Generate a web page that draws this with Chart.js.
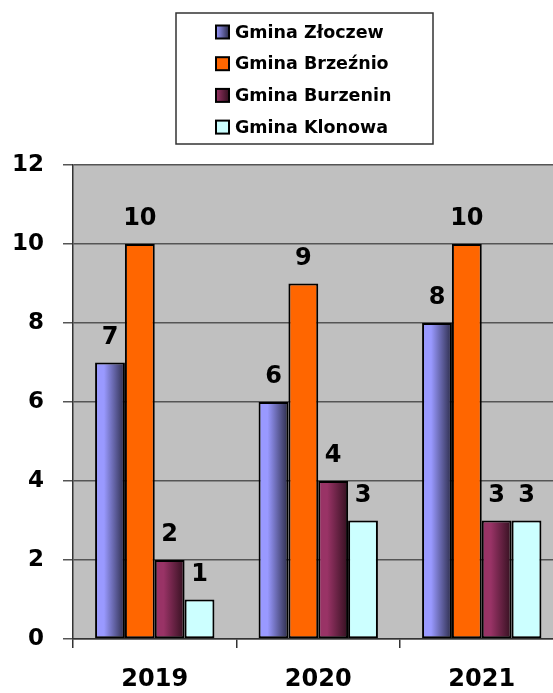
<!DOCTYPE html>
<html>
<head>
<meta charset="utf-8">
<script src="https://cdn.jsdelivr.net/npm/chart.js@4"></script>
<style>
  html, body { margin: 0; padding: 0; background: #fff; overflow: hidden; }
  #wrap { width: 553px; height: 693px; overflow: hidden; position: relative; }
  #box { width: 570px; height: 693px; }
</style>
</head>
<body>
<div id="wrap"><div id="box"><canvas id="bar_chart"></canvas></div></div>
<script>
const years = ["2019", "2020", "2021"];
const gminy = ["Gmina Złoczew", "Gmina Brzeźnio", "Gmina Burzenin", "Gmina Klonowa"];
const zloczew = [7, 6, 8];
const brzeznio = [10, 9, 10];
const burzenin = [2, 4, 3];
const klonowa = [1, 3, 3];
const yTicks = [0, 2, 4, 6, 8, 10, 12];

const CAT_PCT = 0.73;
const FONT = "'DejaVu Sans', sans-serif";

// horizontal gradient for a bar, worked out from the category scale
const gradientFill = (light, dark) => (c) => {
  const chart = c.chart;
  const x = chart.scales.x;
  if (c.type !== "data" || !x || !chart.chartArea) return light;
  const n = chart.data.datasets.length;
  const catW = x.width / chart.data.labels.length;
  const bw = (catW * CAT_PCT) / n;
  const left = x.getPixelForValue(c.dataIndex) - (catW * CAT_PCT) / 2 + c.datasetIndex * bw;
  const g = chart.ctx.createLinearGradient(left, 0, left + bw, 0);
  g.addColorStop(0, light);
  g.addColorStop(0.3, light);
  g.addColorStop(1, dark);
  return g;
};

const valueLabels = {
  id: "valueLabels",
  afterDatasetsDraw(chart) {
    const ctx = chart.ctx;
    ctx.save();
    ctx.font = "bold 24px " + FONT;
    ctx.fillStyle = "#000";
    ctx.textAlign = "center";
    ctx.textBaseline = "alphabetic";
    chart.data.datasets.forEach((ds, i) => {
      chart.getDatasetMeta(i).data.forEach((el, j) => {
        ctx.fillText(String(ds.data[j]), el.x, el.y - 19);
      });
    });
    ctx.restore();
  },
};

const boxLegend = {
  id: "boxLegend",
  afterDraw(chart) {
    const ctx = chart.ctx;
    ctx.save();
    ctx.fillStyle = "#fff";
    ctx.fillRect(176, 13, 257, 131);
    ctx.strokeStyle = "#333";
    ctx.lineWidth = 1.5;
    ctx.strokeRect(176, 13, 257, 131);
    ctx.font = "bold 17.5px " + FONT;
    ctx.textBaseline = "middle";
    ctx.textAlign = "left";
    chart.data.datasets.forEach((ds, i) => {
      const y = 32 + i * 31.7;
      let fill = ds.legendLight;
      if (ds.legendDark) {
        fill = ctx.createLinearGradient(216, 0, 229, 0);
        fill.addColorStop(0, ds.legendLight);
        fill.addColorStop(1, ds.legendDark);
      }
      ctx.fillStyle = fill;
      ctx.fillRect(216, y - 6.5, 13, 13);
      ctx.strokeStyle = "#000";
      ctx.lineWidth = 2;
      ctx.strokeRect(216, y - 6.5, 13, 13);
      ctx.fillStyle = "#000";
      ctx.fillText(ds.label, 235, y + 1);
    });
    ctx.restore();
  },
};

const plotBackground = {
  id: "plotBackground",
  beforeDraw(chart) {
    const a = chart.chartArea;
    chart.ctx.save();
    chart.ctx.fillStyle = "#C0C0C0";
    chart.ctx.fillRect(a.left, a.top, a.right - a.left, a.bottom - a.top);
    chart.ctx.restore();
  },
};

const ctx = document.getElementById("bar_chart").getContext("2d");

new Chart(ctx, {
  type: "bar",
  data: {
    labels: years,
    datasets: [
      {
        label: gminy[0],
        data: zloczew,
        backgroundColor: gradientFill("#9999FF", "#2B2B48"),
        legendLight: "#9999FF",
        legendDark: "#2B2B48",
      },
      {
        label: gminy[1],
        data: brzeznio,
        backgroundColor: "#FF6600",
        legendLight: "#FF6600",
      },
      {
        label: gminy[2],
        data: burzenin,
        backgroundColor: gradientFill("#993366", "#33101F"),
        legendLight: "#993366",
        legendDark: "#33101F",
      },
      {
        label: gminy[3],
        data: klonowa,
        backgroundColor: "#CCFFFF",
        legendLight: "#CCFFFF",
      },
    ],
  },
  options: {
    responsive: true,
    maintainAspectRatio: false,
    animation: false,
    devicePixelRatio: 1,
    layout: { padding: { top: 165, right: 6.5, bottom: 0, left: 0 } },
    datasets: {
      bar: {
        categoryPercentage: CAT_PCT,
        barPercentage: 1,
        borderColor: "#000",
        borderWidth: 2,
        borderSkipped: false,
      },
    },
    plugins: {
      legend: { display: false },
      tooltip: { enabled: false },
    },
    scales: {
      x: {
        grid: {
          display: true,
          drawOnChartArea: false,
          offset: true,
          tickLength: 9,
          color: "#333",
          lineWidth: 1.5,
        },
        border: { color: "#333", width: 1.5 },
        ticks: {
          color: "#000",
          padding: 17,
          font: { family: FONT, size: 24, weight: "bold" },
        },
        afterFit(scale) {
          scale.height = 54;
        },
      },
      y: {
        min: 0,
        max: 12,
        afterBuildTicks(scale) {
          scale.ticks = yTicks.map((v) => ({ value: v }));
        },
        grid: {
          color: "#555",
          lineWidth: 1.5,
          tickLength: 10,
        },
        border: { color: "#333", width: 1.5 },
        ticks: {
          color: "#000",
          padding: 19,
          font: { family: FONT, size: 23, weight: "bold" },
        },
        afterFit(scale) {
          scale.width = 73;
        },
      },
    },
  },
  plugins: [plotBackground, valueLabels, boxLegend],
});
</script>
</body>
</html>
